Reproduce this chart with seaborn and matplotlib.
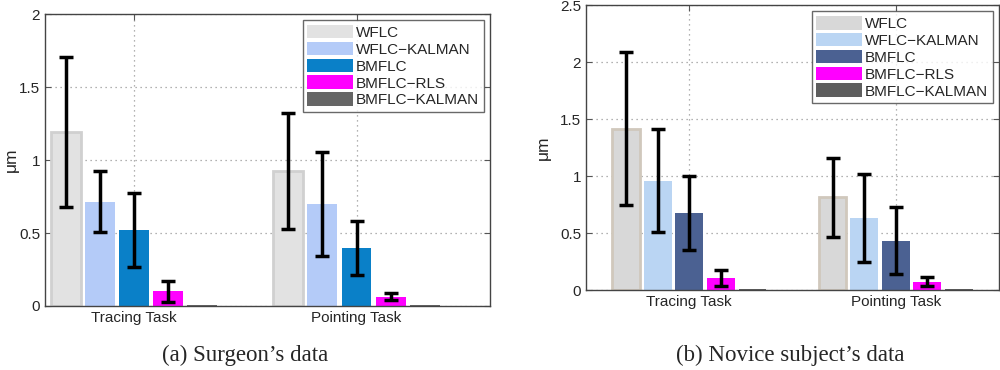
import pandas as pd
import matplotlib.pyplot as plt
import seaborn as sns

# data
tasks = ["Tracing Task", "Pointing Task"]
methods = ["WFLC", "WFLC\u2212KALMAN", "BMFLC", "BMFLC\u2212RLS", "BMFLC\u2212KALMAN"]

# (a) surgeon, mean and +/- error per method, [tracing, pointing]
surgeon_mean = [[1.19, 0.925], [0.715, 0.70], [0.52, 0.40], [0.10, 0.065], [0.009, 0.007]]
surgeon_err = [[0.515, 0.395], [0.21, 0.355], [0.255, 0.185], [0.072, 0.024], [0.0, 0.0]]

# (b) novice subject
novice_mean = [[1.415, 0.815], [0.96, 0.635], [0.68, 0.435], [0.11, 0.073], [0.012, 0.009]]
novice_err = [[0.67, 0.345], [0.45, 0.385], [0.325, 0.29], [0.07, 0.04], [0.0, 0.0]]

surgeon_colors = ["#e2e2e2", "#b4cbf8", "#0a80c8", "#ff00ff", "#666666"]
novice_colors = ["#d8d8d8", "#bad5f3", "#4b6192", "#ff00ff", "#5e5e5e"]


def to_frame(means, errs):
    rows = []
    for m, name in enumerate(methods):
        for t, task in enumerate(tasks):
            rows.append({"task": task, "method": name,
                         "value": means[m][t], "err": errs[m][t]})
    return pd.DataFrame(rows)


sns.set_style("white")
plt.rcParams["font.family"] = ["Liberation Sans", "DejaVu Sans"]

fig = plt.figure(figsize=(10, 3.7), dpi=100)
ax1 = fig.add_axes([0.045, 0.173, 0.445, 0.789])
ax2 = fig.add_axes([0.586, 0.216, 0.413, 0.770])


def draw(ax, df, colors, ymax, yticks, xlim, wflc_edge):
    sns.barplot(data=df, x="task", y="value", hue="method", hue_order=methods,
                order=tasks, palette=colors, saturation=1, width=0.765, gap=0.12,
                errorbar=None, ax=ax, zorder=2, linewidth=0)
    # error bars at the bar centres that seaborn placed
    n = len(tasks)
    for i, patch in enumerate(ax.patches[:len(methods) * n]):
        row = df[(df["method"] == methods[i // n]) & (df["task"] == tasks[i % n])].iloc[0]
        cx = patch.get_x() + patch.get_width() / 2
        if i // n == 0:
            patch.set_edgecolor(wflc_edge)
            patch.set_linewidth(2)
        if row["err"] > 0:
            ax.errorbar(cx, row["value"], yerr=row["err"], color="black",
                        lw=2.5, capsize=5, capthick=2.5, zorder=4)
    ax.set_ylim(0, ymax)
    ax.set_yticks(yticks)
    ax.set_yticklabels([("%g" % v) for v in yticks], fontsize=11)
    ax.set_xlim(*xlim)
    ax.set_xlabel("")
    ax.set_ylabel("\u03bcm", fontsize=12.5)
    ax.tick_params(axis="x", labelsize=11, direction="in", length=4,
                   top=True, bottom=True, color="#555555")
    ax.tick_params(axis="y", direction="in", length=4, left=True, right=True,
                   color="#555555")
    ax.grid(True, linestyle=(0, (1, 3)), color="#999999", lw=0.9, zorder=0)
    ax.set_axisbelow(True)
    for s in ax.spines.values():
        s.set_color("#444444")
        s.set_linewidth(1)
    leg = ax.legend(loc="upper right", fontsize=11, frameon=True, fancybox=False,
                    handlelength=3.0, handleheight=1.0, labelspacing=0.12,
                    handletextpad=0.2, borderpad=0.3, borderaxespad=0.4)
    leg.get_frame().set_edgecolor("#444444")
    leg.get_frame().set_linewidth(1)


draw(ax1, to_frame(surgeon_mean, surgeon_err), surgeon_colors, 2,
     [0, 0.5, 1, 1.5, 2], (-0.4, 1.6), "#d0d0d0")
draw(ax2, to_frame(novice_mean, novice_err), novice_colors, 2.5,
     [0, 0.5, 1, 1.5, 2, 2.5], (-0.5, 1.5), "#d0c8bc")
ax1.yaxis.set_label_coords(-0.058, 0.5)
ax2.yaxis.set_label_coords(-0.085, 0.5)

fig.text(0.245, 0.04, "(a) Surgeon\u2019s data", ha="center", va="center",
         fontsize=16.5, family=["Liberation Serif", "DejaVu Serif"])
fig.text(0.79, 0.04, "(b) Novice subject\u2019s data", ha="center", va="center",
         fontsize=16.5, family=["Liberation Serif", "DejaVu Serif"])

fig.savefig("out.png", dpi=100)
